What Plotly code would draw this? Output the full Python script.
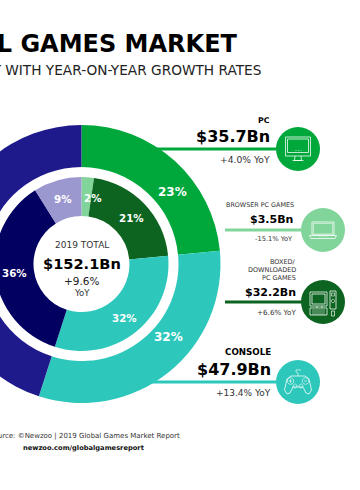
import math
import plotly.graph_objects as go

# ---- data ----
outer_segments = ["PC", "Console", "Mobile"]
outer_values = [35.7, 47.9, 68.5]
outer_pct_labels = ["23%", "32%", "45%"]
outer_colors = ["#00a83c", "#2dc8bb", "#1f1a8c"]

inner_segments = ["Browser PC Games", "Boxed/Downloaded PC Games", "Console", "Smartphone", "Tablet"]
inner_values = [3.5, 32.2, 47.9, 54.9, 13.6]
inner_pct_labels = ["2%", "21%", "32%", "36%", "9%"]
inner_colors = ["#82d59a", "#0d6420", "#2dc8bb", "#020060", "#9b97cf"]

title = "THE 2019 GLOBAL GAMES MARKET"
subtitle = "PER DEVICE &amp; SEGMENT WITH YEAR-ON-YEAR GROWTH RATES"

# ---- canvas helpers (layout is wider than the window, shifted left so the chart is cropped) ----
SHIFT = 300
W, H = 360 + SHIFT, 490
FONT = "DejaVu Sans, sans-serif"
CX, CY = 81.5, 264
R_OUT, R_OUT_HOLE, R_IN, R_IN_HOLE = 139, 97, 87, 48


def px(x):
    return (x + SHIFT) / W


def py(y):
    return 1 - y / H


def dom(r):
    return dict(x=[px(CX - r), px(CX + r)], y=[py(CY + r), py(CY - r)])


fig = go.Figure()
fig.add_trace(go.Pie(labels=outer_segments, values=outer_values, sort=False, direction="clockwise",
                     rotation=0, hole=R_OUT_HOLE / R_OUT, domain=dom(R_OUT), textinfo="none",
                     marker=dict(colors=outer_colors, line=dict(width=0)), showlegend=False))
fig.add_trace(go.Pie(labels=inner_segments, values=inner_values, sort=False, direction="clockwise",
                     rotation=0, hole=R_IN_HOLE / R_IN, domain=dom(R_IN), textinfo="none",
                     marker=dict(colors=inner_colors, line=dict(width=0)), showlegend=False))


def text(x, y, s, size, color="#1a1a1a", bold=False, anchor="right"):
    fig.add_annotation(x=px(x), y=py(y), xref="paper", yref="paper", text=f"<b>{s}</b>" if bold else s,
                       showarrow=False, xanchor=anchor, yanchor="middle", borderpad=0, borderwidth=0,
                       font=dict(family=FONT, size=size, color=color), align=anchor)


# header / footer
text(238, 44, title, 24, "#000000", True)
text(261, 70, subtitle, 13.7, "#222222")
text(180, 436, "Source: ©Newzoo | 2019 Global Games Market Report", 7, "#333333")
text(84, 448, "newzoo.com/globalgamesreport", 6.7, "#111111", True, "center")

# centre
text(CX, 245, "2019 TOTAL", 9, "#333333", anchor="center")
text(CX, 263, "$152.1Bn", 14.6, "#000000", True, "center")
text(CX, 281, "+9.6%", 10.5, "#222222", anchor="center")
text(CX, 293, "YoY", 8.5, "#333333", anchor="center")

# slice labels
label_pos_outer = [(172, 192), (168.5, 337)]
for (x, y), s in zip(label_pos_outer, outer_pct_labels):
    text(x, y, s, 12, "#ffffff", True, "center")
label_pos_inner = [(92, 198), (131, 218), (124, 318), (14.5, 273), (62.5, 199)]
for (x, y), s in zip(label_pos_inner, inner_pct_labels):
    text(x, y, s, 10.3, "#ffffff", True, "center")

# leader lines
leaders = [(150, 278, 149, outer_colors[0]), (225, 305, 230, inner_colors[0]),
           (225, 305, 302, inner_colors[1]), (150, 278, 382, outer_colors[1])]
for x0, x1, y, c in leaders:
    fig.add_shape(type="line", xref="paper", yref="paper", x0=px(x0), x1=px(x1), y0=py(y), y1=py(y),
                  line=dict(color=c, width=3), layer="below")

# callouts: (right edge, label y, label, size, value, y, size, yoy, y, size, label colour, value/yoy edge)
callouts = [
    (270, 120, "<b>PC</b>", 7.8, "$35.7Bn", 136, 16, "+4.0% YoY", 160, 9.2, "#000000", 270),
    (294, 205, "BROWSER PC GAMES", 6.4, "$3.5Bn", 219, 11, "-15.1% YoY", 239, 6.7, "#333333", 292.5),
    (296, 262, "BOXED/", 6.5, "$32.2Bn", 292, 11, "+6.6% YoY", 312, 7.2, "#333333", 296),
    (271, 352, "<b>CONSOLE</b>", 8.7, "$47.9Bn", 369, 16, "+13.4% YoY", 393, 9, "#000000", 271),
]
for x, ly, lab, ls, val, vy, vs, yoy, yy, ys, lc, vx in callouts:
    text(x, ly, lab, ls, lc)
    text(vx, vy, val, vs, "#000000", True)
    text(vx, yy, yoy, ys, "#333333")
text(296, 270, "DOWNLOADED", 6.5, "#333333")
text(296, 278, "PC GAMES", 6.5, "#333333")

# icon circles
circles = [(298, 149, outer_colors[0]), (323, 230, inner_colors[0]),
           (323, 302, inner_colors[1]), (298, 382, outer_colors[1])]
for x, y, c in circles:
    fig.add_shape(type="circle", xref="paper", yref="paper", x0=px(x - 22), x1=px(x + 22),
                  y0=py(y + 22), y1=py(y - 22), fillcolor=c, line=dict(width=0))


def icon(cx, cy, cmds, width=0.9):
    path = ""
    for c in cmds:
        tok = c if isinstance(c, str) else f"{px(cx + c[0]):.5f},{py(cy + c[1]):.5f}"
        path += (" " + tok) if path else tok
    fig.add_shape(type="path", xref="paper", yref="paper", path=path,
                  line=dict(color="rgba(255,255,255,0.85)", width=width))


def poly(*pts, close=True):
    cmds = []
    for i, p in enumerate(pts):
        cmds += ["M" if i == 0 else "L", p]
    if close:
        cmds.append("Z")
    return cmds


def box(x0, y0, x1, y1):
    return poly((x0, y0), (x1, y0), (x1, y1), (x0, y1))


def dots(x0, x1, y, n):
    cmds = []
    for i in range(n):
        x = x0 + (x1 - x0) * i / (n - 1)
        cmds += ["M", (x, y), "L", (x + 0.6, y)]
    return cmds


def ring(x, y, r):
    n = 12
    return poly(*[(x + r * math.cos(2 * math.pi * i / n), y + r * math.sin(2 * math.pi * i / n)) for i in range(n)])


# PC monitor
c = (298, 149)
icon(*c, box(-12.5, -12, 12.5, 7))
icon(*c, box(-10.5, -10, 10.5, 3.5))
icon(*c, dots(-3, 3, 1.5, 5), 0.7)
icon(*c, poly((-3, 7), (-3.5, 11.5), (3.5, 11.5), (3, 7), close=False))
icon(*c, poly((-5.5, 11.5), (5.5, 11.5), close=False))

# laptop
c = (323, 230)
icon(*c, box(-11, -8, 11, 5))
icon(*c, box(-9.5, -6.5, 9.5, 4), 0.6)
icon(*c, poly((-13.5, 5.5), (13.5, 5.5), (12, 8.5), (-12, 8.5)))
icon(*c, dots(-4, 4, 6.8, 6), 0.6)

# desktop PC
c = (323, 302)
icon(*c, box(-13, -10, 4, 4))
icon(*c, box(-11, -8, 2, 2))
icon(*c, box(-13, 6, 4, 13))
for yy in (8, 10, 12):
    icon(*c, poly((-11, yy), (2, yy), close=False), 0.6)
icon(*c, box(7, -11, 13, 7))
icon(*c, box(8.5, -9, 11.5, -6), 0.7)
icon(*c, ring(10, -1, 1.7), 0.7)
icon(*c, box(8.5, 9, 11.5, 14), 0.8)
icon(*c, poly((-6, 4), (-6, 6), close=False))
icon(*c, poly((-1, 4), (-1, 6), close=False))

# gamepad
c = (298, 382)
icon(*c, ["M", (-7, -6), "L", (7, -6), "L", (11, -3), "L", (13.5, 8), "L", (11, 12), "L", (8, 11),
          "L", (5, 5), "L", (-5, 5), "L", (-8, 11), "L", (-11, 12), "L", (-13.5, 8), "L", (-11, -3), "Z"])
icon(*c, ring(-7.5, -1, 3.3), 0.7)
icon(*c, ring(7.5, -1, 3.3), 0.7)
icon(*c, ring(-3, 4, 2), 0.7)
icon(*c, ring(3, 4, 2), 0.7)
icon(*c, poly((-9.3, -1), (-5.7, -1), close=False), 0.7)
icon(*c, poly((-7.5, -2.8), (-7.5, 0.8), close=False), 0.7)
icon(*c, poly((6, -1), (9, -1), close=False), 0.7)
icon(*c, poly((0, -6), (0, -9), (-2, -10), (-2, -12), (3, -12), close=False), 0.7)

fig.update_layout(width=W, height=H, margin=dict(l=0, r=0, t=0, b=0), autosize=False,
                  paper_bgcolor="#ffffff", plot_bgcolor="#ffffff", showlegend=False)

fig.write_html(
    "out.html",
    post_script=(
        "document.body.style.margin='0';document.body.style.overflow='hidden';"
        "var d=document.getElementById('{plot_id}');d.style.marginLeft='-" + str(SHIFT) + "px';"
    ),
    config={"displayModeBar": False},
)
